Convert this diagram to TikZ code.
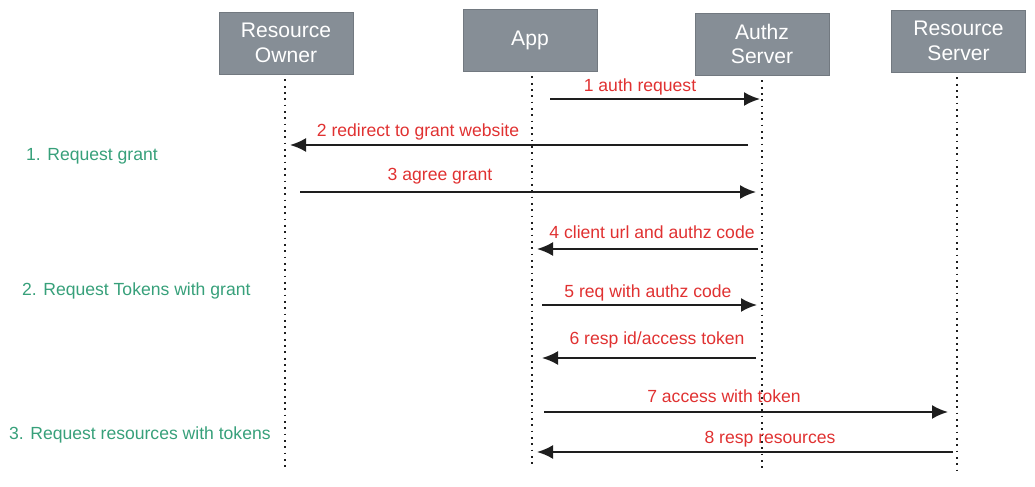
\documentclass[tikz,border=0pt]{standalone}
\usepackage{fontspec}
\setmainfont{Liberation Sans}
\usetikzlibrary{arrows.meta}
\definecolor{boxgray}{HTML}{868E96}
\definecolor{msgred}{HTML}{E03131}
\definecolor{phasegreen}{HTML}{37A07A}
\definecolor{ink}{HTML}{1E1E1E}

\begin{document}
\begin{tikzpicture}[
        actor/.style = {draw = boxgray!85!black, fill = boxgray, text = white,
            minimum width = 2.68cm, minimum height = 1.24cm, align = center,
            font = \large, line width = 0.5pt},
        life/.style = {ink, line width = 0.8pt, dash pattern = on 1pt off 2.6pt},
        msg/.style = {ink, line width = 1.2pt, -{Latex[length = 3.2mm, width = 2.8mm]}},
        lbl/.style = {text = msgred, font = \normalsize},
        phase/.style = {text = phasegreen, anchor = west, font = \normalsize}]
        \useasboundingbox (0, 0) rectangle (20.7, -9.74);
        % participants
        \node[actor] at (5.72, -0.86) (owner) {Resource\\Owner};
        \node[actor] at (10.6, -0.8) (app) {App};
        \node[actor] at (15.24, -0.88) (authz) {Authz\\Server};
        \node[actor] at (19.17, -0.82) (rs) {Resource\\Server};
        % lifelines
        \coordinate (owner_end) at (5.7, -9.34);
        \coordinate (app_end) at (10.64, -9.3);
        \coordinate (authz_end) at (15.24, -9.4);
        \coordinate (rs_end) at (19.14, -9.4);
        \draw[life] ([yshift = -0.1cm] owner.south -| owner_end) -- (owner_end);
        \draw[life] ([yshift = -0.1cm] app.south -| app_end) -- (app_end);
        \draw[life] ([yshift = -0.1cm] authz.south -| authz_end) -- (authz_end);
        \draw[life] ([yshift = -0.1cm] rs.south -| rs_end) -- (rs_end);
        % message ends
        \coordinate (m1a) at (11.0, -1.98);
        \coordinate (m1b) at (15.2, -1.98);
        \coordinate (m2a) at (14.96, -2.9);
        \coordinate (m2b) at (5.8, -2.9);
        \coordinate (m3a) at (6.0, -3.84);
        \coordinate (m3b) at (15.12, -3.84);
        \coordinate (m4a) at (15.16, -4.98);
        \coordinate (m4b) at (10.74, -4.98);
        \coordinate (m5a) at (10.84, -6.1);
        \coordinate (m5b) at (15.14, -6.1);
        \coordinate (m6a) at (15.12, -7.16);
        \coordinate (m6b) at (10.84, -7.16);
        \coordinate (m7a) at (10.88, -8.24);
        \coordinate (m7b) at (18.96, -8.24);
        \coordinate (m8a) at (19.06, -9.04);
        \coordinate (m8b) at (10.74, -9.04);
        % messages
        \draw[msg] (m1a) -- (m1b);
        \draw[msg] (m2a) -- (m2b);
        \draw[msg] (m3a) -- (m3b);
        \draw[msg] (m4a) -- (m4b);
        \draw[msg] (m5a) -- (m5b);
        \draw[msg] (m6a) -- (m6b);
        \draw[msg] (m7a) -- (m7b);
        \draw[msg] (m8a) -- (m8b);
        % message labels
        \node[lbl] at (12.8, -1.74) (l1) {1 auth request};
        \node[lbl] at (8.36, -2.64) (l2) {2 redirect to grant website};
        \node[lbl] at (8.8, -3.52) (l3) {3 agree grant};
        \node[lbl] at (13.04, -4.64) (l4) {4 client url and authz code};
        \node[lbl] at (12.96, -5.86) (l5) {5 req with authz code};
        \node[lbl] at (13.14, -6.8) (l6) {6 resp id/access token};
        \node[lbl] at (14.48, -7.92) (l7) {7 access with token};
        \node[lbl] at (15.4, -8.78) (l8) {8 resp resources};
        % phases
        \node[phase] at (0.4, -3.12) (p1) {1. Request grant};
        \node[phase] at (0.32, -5.82) (p2) {2. Request Tokens with grant};
        \node[phase] at (0.06, -8.7) (p3) {3. Request resources with tokens};
\end{tikzpicture}
\end{document}
